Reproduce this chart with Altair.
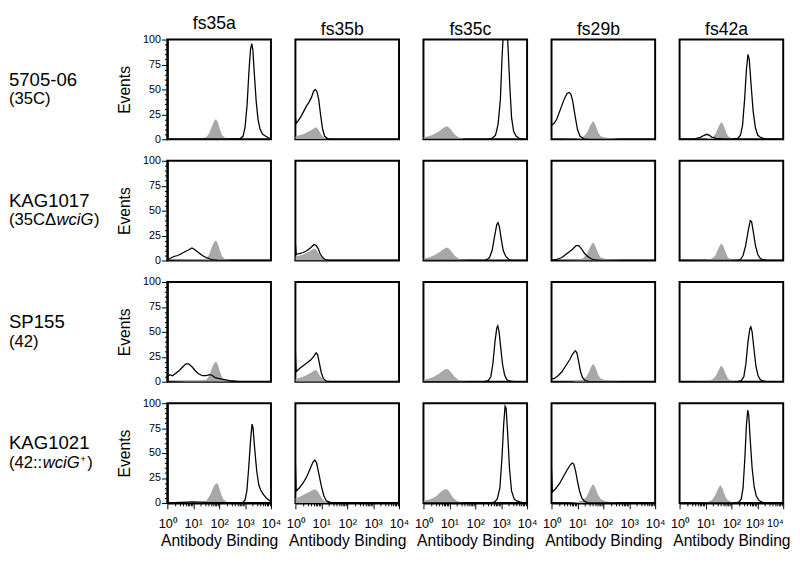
import altair as alt
import pandas as pd
import numpy as np

# ---------------- categories / text ----------------
antibodies = ["fs35a", "fs35b", "fs35c", "fs29b", "fs42a"]
strain_names = ["5705-06", "KAG1017", "SP155", "KAG1021"]
# second line of each strain label: (text, style)
strain_line2 = [
    [("(35C)", "normal")],
    [("(35C\u0394", "normal"), ("wciG", "italic"), (")", "normal")],
    [("(42)", "normal")],
    [("(42::", "normal"), ("wciG", "italic"), ("+", "sup"), (")", "normal")],
]
x_title = "Antibody Binding"
y_title = "Events"
superscripts = ["\u2070", "\u00b9", "\u00b2", "\u00b3", "\u2074"]

# ---------------- histogram curves: (log10 fluorescence, events) ----------------
# ctrl = control (gray filled), ab = antibody (black line)
r1_fs35a_ctrl = [(0.0,0),(0.5,0.5),(0.9,1),(1.3,1),(1.5,2),(1.62,6),(1.72,13),(1.82,19),(1.88,20),(1.95,17),(2.03,10),(2.12,4),(2.25,1),(2.5,0),(4.0,0)]
r1_fs35a_ab = [(0.0,0),(1.0,0.5),(2.0,0.3),(2.8,0.5),(2.92,3),(3.0,12),(3.08,35),(3.15,68),(3.21,90),(3.26,96),(3.3,90),(3.36,65),(3.43,38),(3.5,20),(3.58,10),(3.68,5),(3.8,3),(3.9,1.5),(4.0,0)]
r1_fs35b_ctrl = [(0.0,3),(0.15,4),(0.3,5),(0.45,7),(0.6,9),(0.72,11),(0.8,12),(0.88,10),(0.97,6),(1.05,3),(1.15,1),(1.3,0),(4.0,0)]
r1_fs35b_ab = [(0.0,22),(0.03,16),(0.12,19),(0.22,23),(0.32,28),(0.42,33),(0.52,37),(0.62,42),(0.7,48),(0.77,50),(0.83,48),(0.9,40),(0.97,25),(1.05,10),(1.13,3),(1.25,0.5),(1.4,0),(4.0,0)]
r1_fs35c_ctrl = [(0.0,2),(0.2,3),(0.4,5),(0.6,8),(0.75,11),(0.88,13),(0.98,12),(1.08,9),(1.2,5),(1.35,2),(1.55,0.5),(1.8,0),(4.0,0)]
r1_fs35c_ab = [(0.0,0),(2.5,0),(2.65,1),(2.78,4),(2.88,15),(2.97,40),(3.03,80),(3.1,115),(3.2,118),(3.26,95),(3.33,55),(3.4,22),(3.48,8),(3.58,3),(3.7,1),(3.85,0),(4.0,0)]
r1_fs29b_ctrl = [(0.0,0),(0.9,0.5),(1.1,1),(1.25,3),(1.38,7),(1.48,13),(1.57,17),(1.62,18),(1.7,14),(1.8,7),(1.9,3),(2.1,1.5),(2.4,1),(2.6,0.3),(2.8,0),(4.0,0)]
r1_fs29b_ab = [(0.0,14),(0.1,16),(0.2,20),(0.3,27),(0.4,34),(0.5,41),(0.6,46),(0.68,47),(0.75,45),(0.82,38),(0.9,25),(1.0,10),(1.1,3),(1.25,0.5),(1.5,0),(4.0,0)]
r1_fs42a_ctrl = [(0.0,0),(1.0,0.5),(1.25,2),(1.38,5),(1.48,11),(1.57,16),(1.62,17),(1.7,14),(1.78,8),(1.87,3),(2.0,1),(2.2,0),(4.0,0)]
r1_fs42a_ab = [(0.0,0),(0.6,0.5),(0.8,2),(0.95,4),(1.05,5),(1.15,4),(1.25,2),(1.4,1),(1.7,0.5),(2.1,0.5),(2.25,1),(2.35,4),(2.43,14),(2.51,40),(2.58,70),(2.64,85),(2.69,80),(2.76,55),(2.84,28),(2.93,11),(3.02,4),(3.12,2),(3.3,0.5),(4.0,0)]

r2_fs35a_ctrl = [(0.0,0),(0.5,0.5),(0.9,1),(1.3,1),(1.5,2),(1.62,6),(1.72,14),(1.82,19),(1.88,20),(1.95,17),(2.03,10),(2.12,4),(2.25,1),(2.5,0),(4.0,0)]
r2_fs35a_ab = [(0.0,1),(0.1,2),(0.25,4),(0.4,5),(0.55,7),(0.7,9),(0.85,11),(0.95,12.5),(1.05,11),(1.2,8),(1.35,5),(1.5,3),(1.65,1.5),(1.8,0.5),(2.0,0),(4.0,0)]
r2_fs35b_ctrl = [(0.0,4),(0.15,5),(0.3,6),(0.45,8),(0.6,10),(0.72,12),(0.8,11),(0.9,7),(1.0,3),(1.1,1),(1.25,0),(4.0,0)]
r2_fs35b_ab = [(0.0,17),(0.03,6),(0.15,7),(0.3,8),(0.45,10),(0.6,13),(0.72,16),(0.8,15),(0.88,12),(0.95,7),(1.05,3),(1.15,1),(1.3,0),(4.0,0)]
r2_fs35c_ctrl = [(0.0,2),(0.2,3),(0.4,5),(0.6,8),(0.75,11),(0.88,13),(0.98,12),(1.08,9),(1.2,5),(1.35,2),(1.55,0.5),(1.8,0),(4.0,0)]
r2_fs35c_ab = [(0.0,0),(2.3,0),(2.45,1),(2.55,3),(2.65,10),(2.75,25),(2.83,36),(2.88,38),(2.93,34),(3.0,22),(3.08,10),(3.18,4),(3.3,1),(3.45,0),(4.0,0)]
r2_fs29b_ctrl = [(0.0,0),(0.9,0.5),(1.1,1),(1.25,3),(1.38,7),(1.48,13),(1.57,17),(1.62,18),(1.7,14),(1.8,7),(1.9,3),(2.1,1.5),(2.4,1),(2.6,0.3),(2.8,0),(4.0,0)]
r2_fs29b_ab = [(0.0,0),(0.2,1),(0.4,3),(0.6,7),(0.8,11),(0.95,15),(1.05,15),(1.15,12),(1.25,8),(1.35,5),(1.45,3),(1.55,1.5),(1.7,0.5),(1.9,0),(4.0,0)]
r2_fs42a_ctrl = [(0.0,0),(1.0,0.5),(1.25,2),(1.38,5),(1.48,11),(1.57,16),(1.62,17),(1.7,14),(1.78,8),(1.87,3),(2.0,1),(2.2,0),(4.0,0)]
r2_fs42a_ab = [(0.0,0),(2.2,0),(2.35,1),(2.45,5),(2.55,15),(2.65,30),(2.73,40),(2.78,39),(2.85,28),(2.93,15),(3.02,6),(3.12,2),(3.25,0.5),(3.4,0),(4.0,0)]

r3_fs35a_ctrl = [(0.0,0),(0.5,0.5),(0.9,1),(1.3,1),(1.5,2),(1.62,6),(1.72,14),(1.82,19),(1.88,20),(1.95,17),(2.03,10),(2.12,4),(2.25,1),(2.5,0),(4.0,0)]
r3_fs35a_ab = [(0.0,5),(0.1,7),(0.2,6),(0.3,8),(0.45,11),(0.6,15),(0.72,18),(0.82,18),(0.95,15),(1.08,11),(1.2,8),(1.35,6),(1.5,6),(1.62,7),(1.72,6.5),(1.85,4),(2.0,3),(2.2,2),(2.4,1),(2.6,0.5),(2.8,0),(4.0,0)]
r3_fs35b_ctrl = [(0.0,3),(0.15,4),(0.3,5),(0.45,7),(0.6,9),(0.72,11),(0.8,12),(0.9,8),(1.0,4),(1.1,1),(1.25,0),(4.0,0)]
r3_fs35b_ab = [(0.0,30),(0.03,10),(0.15,13),(0.3,16),(0.45,19),(0.6,22),(0.72,26),(0.8,29),(0.86,27),(0.93,18),(1.0,9),(1.08,3),(1.2,0.5),(1.35,0),(4.0,0)]
r3_fs35c_ctrl = [(0.0,2),(0.2,3),(0.4,5),(0.6,8),(0.75,11),(0.88,13),(0.98,12),(1.08,9),(1.2,5),(1.35,2),(1.55,0.5),(1.8,0),(4.0,0)]
r3_fs35c_ab = [(0.0,0),(2.35,0),(2.5,1),(2.6,5),(2.68,18),(2.76,40),(2.83,54),(2.87,56),(2.92,50),(2.98,35),(3.05,18),(3.13,7),(3.22,2),(3.35,0.5),(3.5,0),(4.0,0)]
r3_fs29b_ctrl = [(0.0,0),(0.8,0.3),(1.0,1),(1.2,2),(1.35,5),(1.45,10),(1.55,16),(1.62,18),(1.7,14),(1.8,7),(1.9,3),(2.1,1.5),(2.4,1),(2.6,0.3),(2.8,0),(4.0,0)]
r3_fs29b_ab = [(0.0,3),(0.1,3),(0.25,6),(0.4,10),(0.55,16),(0.7,22),(0.82,28),(0.92,31),(0.98,29),(1.05,20),(1.12,10),(1.2,4),(1.3,1),(1.45,0),(4.0,0)]
r3_fs42a_ctrl = [(0.0,0),(1.0,0.5),(1.25,2),(1.38,5),(1.48,10),(1.57,15),(1.62,16),(1.7,13),(1.78,8),(1.87,3),(2.0,1),(2.2,0),(4.0,0)]
r3_fs42a_ab = [(0.0,0),(2.25,0),(2.38,1),(2.48,5),(2.56,18),(2.64,40),(2.71,53),(2.75,55),(2.8,50),(2.87,33),(2.95,15),(3.03,6),(3.12,2),(3.25,0.5),(3.4,0),(4.0,0)]

r4_fs35a_ctrl = [(0.0,0),(0.6,0.5),(1.0,1),(1.3,1),(1.5,2),(1.65,8),(1.8,17),(1.9,20),(1.97,18),(2.05,11),(2.15,4),(2.3,1),(2.6,0),(4.0,0)]
r4_fs35a_ab = [(0.0,0),(0.5,0.5),(1.0,1),(1.5,0.5),(2.5,0.2),(2.92,0.5),(3.0,3),(3.07,12),(3.14,35),(3.21,62),(3.27,79),(3.31,75),(3.37,55),(3.45,32),(3.53,18),(3.62,12),(3.72,8),(3.82,5),(3.92,3),(4.0,1)]
r4_fs35b_ctrl = [(0.0,5),(0.15,6),(0.3,8),(0.45,10),(0.6,12),(0.75,14),(0.85,12),(0.95,8),(1.05,4),(1.15,1.5),(1.3,0),(4.0,0)]
r4_fs35b_ab = [(0.0,40),(0.03,12),(0.15,15),(0.3,20),(0.45,27),(0.58,35),(0.68,41),(0.75,43),(0.82,40),(0.9,30),(1.0,17),(1.1,7),(1.2,2),(1.35,0.5),(1.5,0),(4.0,0)]
r4_fs35c_ctrl = [(0.0,2),(0.3,4),(0.5,7),(0.7,12),(0.85,14),(0.95,13),(1.05,9),(1.15,5),(1.3,2),(1.5,0.5),(1.8,0),(4.0,0)]
r4_fs35c_ab = [(0.0,0),(2.6,0),(2.75,1),(2.85,4),(2.95,15),(3.03,45),(3.1,80),(3.15,97),(3.19,95),(3.25,70),(3.32,35),(3.4,12),(3.5,4),(3.6,2),(3.72,1),(3.85,0),(4.0,0)]
r4_fs29b_ctrl = [(0.0,0),(0.8,0.3),(1.0,1),(1.2,2.5),(1.35,6),(1.45,12),(1.55,17),(1.6,19),(1.68,16),(1.78,9),(1.9,4),(2.05,2),(2.3,1),(2.6,0.3),(2.8,0),(4.0,0)]
r4_fs29b_ab = [(0.0,34),(0.03,11),(0.15,14),(0.3,19),(0.45,26),(0.6,33),(0.72,38),(0.8,40),(0.86,39),(0.93,32),(1.0,22),(1.08,12),(1.17,5),(1.27,1.5),(1.4,0.3),(1.6,0),(4.0,0)]
r4_fs42a_ctrl = [(0.0,0),(0.8,0.5),(1.1,1),(1.25,3),(1.38,8),(1.48,14),(1.57,18),(1.65,15),(1.73,9),(1.82,4),(1.95,1.5),(2.1,0.5),(2.3,0),(4.0,0)]
r4_fs42a_ab = [(0.0,0),(2.2,0),(2.3,1),(2.38,4),(2.45,15),(2.52,45),(2.58,78),(2.63,93),(2.67,88),(2.73,62),(2.8,35),(2.88,16),(2.96,7),(3.05,3),(3.15,1),(3.3,0),(4.0,0)]

G = globals()

# ---------------- style ----------------
FONT = "Liberation Sans"
GRAY = "#a8a8a8"
PW, PH = 106, 102
LABEL_W = 137

x_values = sorted(set([float(np.log10(k * 10 ** m)) for m in range(4) for k in range(1, 10)] + [4.0]))
major_test = "abs(datum.value - round(datum.value)) < 0.001"
sup_arr = "[" + ",".join("'" + s + "'" for s in superscripts) + "]"
x_label_expr = f"{major_test} ? '10' + {sup_arr}[round(datum.value)] : ''"

xscale = alt.Scale(domain=[0, 4], nice=False, zero=False)
yscale = alt.Scale(domain=[0, 100], nice=False)


def panel(r, c):
    ab_name = antibodies[c]
    ctrl = pd.DataFrame(G[f"r{r+1}_{ab_name}_ctrl"], columns=["lx", "ev"])
    ab = pd.DataFrame(G[f"r{r+1}_{ab_name}_ab"], columns=["lx", "ev"])
    if r == 3:
        extra = {}
        if c == 4:
            # keep the last label of the last panel inside the page
            extra = dict(
                labelAlign={"condition": {"test": "datum.value > 3.9", "value": "right"}, "value": "center"},
                labelFontSize={"condition": {"test": "datum.value > 3.9", "value": 11}, "value": 13},
                labelOffset={"condition": {"test": "abs(datum.value - 3) < 0.001", "value": -3}, "value": 0},
            )
        else:
            extra = dict(labelAlign="center", labelFontSize=13)
        xaxis = alt.Axis(values=x_values, labelExpr=x_label_expr,
                         tickSize={"condition": {"test": major_test, "value": 6}, "value": 3},
                         labelPadding=9, labelFlush=False, labelOverlap=False,
                         titleFontSize=16, titlePadding=3, **extra)
        xenc = alt.X("lx:Q", scale=xscale, axis=xaxis, title=x_title)
    else:
        xenc = alt.X("lx:Q", scale=xscale, axis=None)
    if c == 0:
        yaxis = alt.Axis(values=list(range(0, 101, 5)),
                         labelExpr="datum.value % 25 === 0 ? datum.label : ''",
                         tickSize={"condition": {"test": "datum.value % 25 === 0", "value": 6}, "value": 3},
                         labelFontSize=11, labelPadding=1, labelOverlap=False,
                         titleFontSize=16, titlePadding=10)
        yenc = alt.Y("ev:Q", scale=yscale, axis=yaxis, title=y_title)
    else:
        yenc = alt.Y("ev:Q", scale=yscale, axis=None)
    area = alt.Chart(ctrl).mark_area(color=GRAY, clip=True).encode(x=xenc, y=yenc)
    line = alt.Chart(ab).mark_line(color="black", strokeWidth=1.3, clip=True).encode(x=xenc, y=yenc)
    ch = alt.layer(area, line).properties(width=PW, height=PH)
    if r == 0:
        ch = ch.properties(title=alt.TitleParams(text=ab_name, fontSize=18, fontWeight="normal",
                                                 font=FONT, color="black", offset=1, dx=-5))
    return ch


def label_cell(r):
    layers = [alt.Chart(pd.DataFrame({"t": [strain_names[r]]})).mark_text(
        align="left", baseline="alphabetic", fontSize=19, font=FONT, color="black"
    ).encode(text="t:N", x=alt.value(0), y=alt.value(47))]
    xpos = 0.0
    offsets = {"(35C\u0394": 48.5, "wciG": 38.5, "(42::": 34.5, "+": 7.0}
    for text, style in strain_line2[r]:
        if style == "sup":
            mk = alt.Chart(pd.DataFrame({"t": [text]})).mark_text(
                align="left", baseline="alphabetic", fontSize=10, font=FONT, color="black"
            ).encode(text="t:N", x=alt.value(xpos), y=alt.value(60))
        else:
            mk = alt.Chart(pd.DataFrame({"t": [text]})).mark_text(
                align="left", baseline="alphabetic", fontSize=17, font=FONT, color="black",
                fontStyle=style
            ).encode(text="t:N", x=alt.value(xpos), y=alt.value(66))
        layers.append(mk)
        xpos += offsets.get(text, 0)
    return alt.layer(*layers).properties(width=LABEL_W, height=PH,
                                         view=alt.ViewBackground(stroke="transparent"))


cells = []
for r in range(4):
    cells.append(label_cell(r))
    for c in range(5):
        cells.append(panel(r, c))

chart = alt.concat(
    *cells, columns=6,
    spacing=alt.RowColnumber(row=22, column=25),
    align="each", bounds="flush"
).properties(
    padding={"left": 0, "top": 0, "right": 0, "bottom": 0},
    background="white"
).configure_view(
    stroke="black", strokeWidth=2
).configure_axis(
    labelFont=FONT, titleFont=FONT, labelColor="black", titleColor="black",
    tickColor="black", domainColor="black", domainWidth=2, tickWidth=1,
    titleFontWeight="normal", grid=False
)

chart.save("out.html", embed_options={"renderer": "svg", "actions": False})
